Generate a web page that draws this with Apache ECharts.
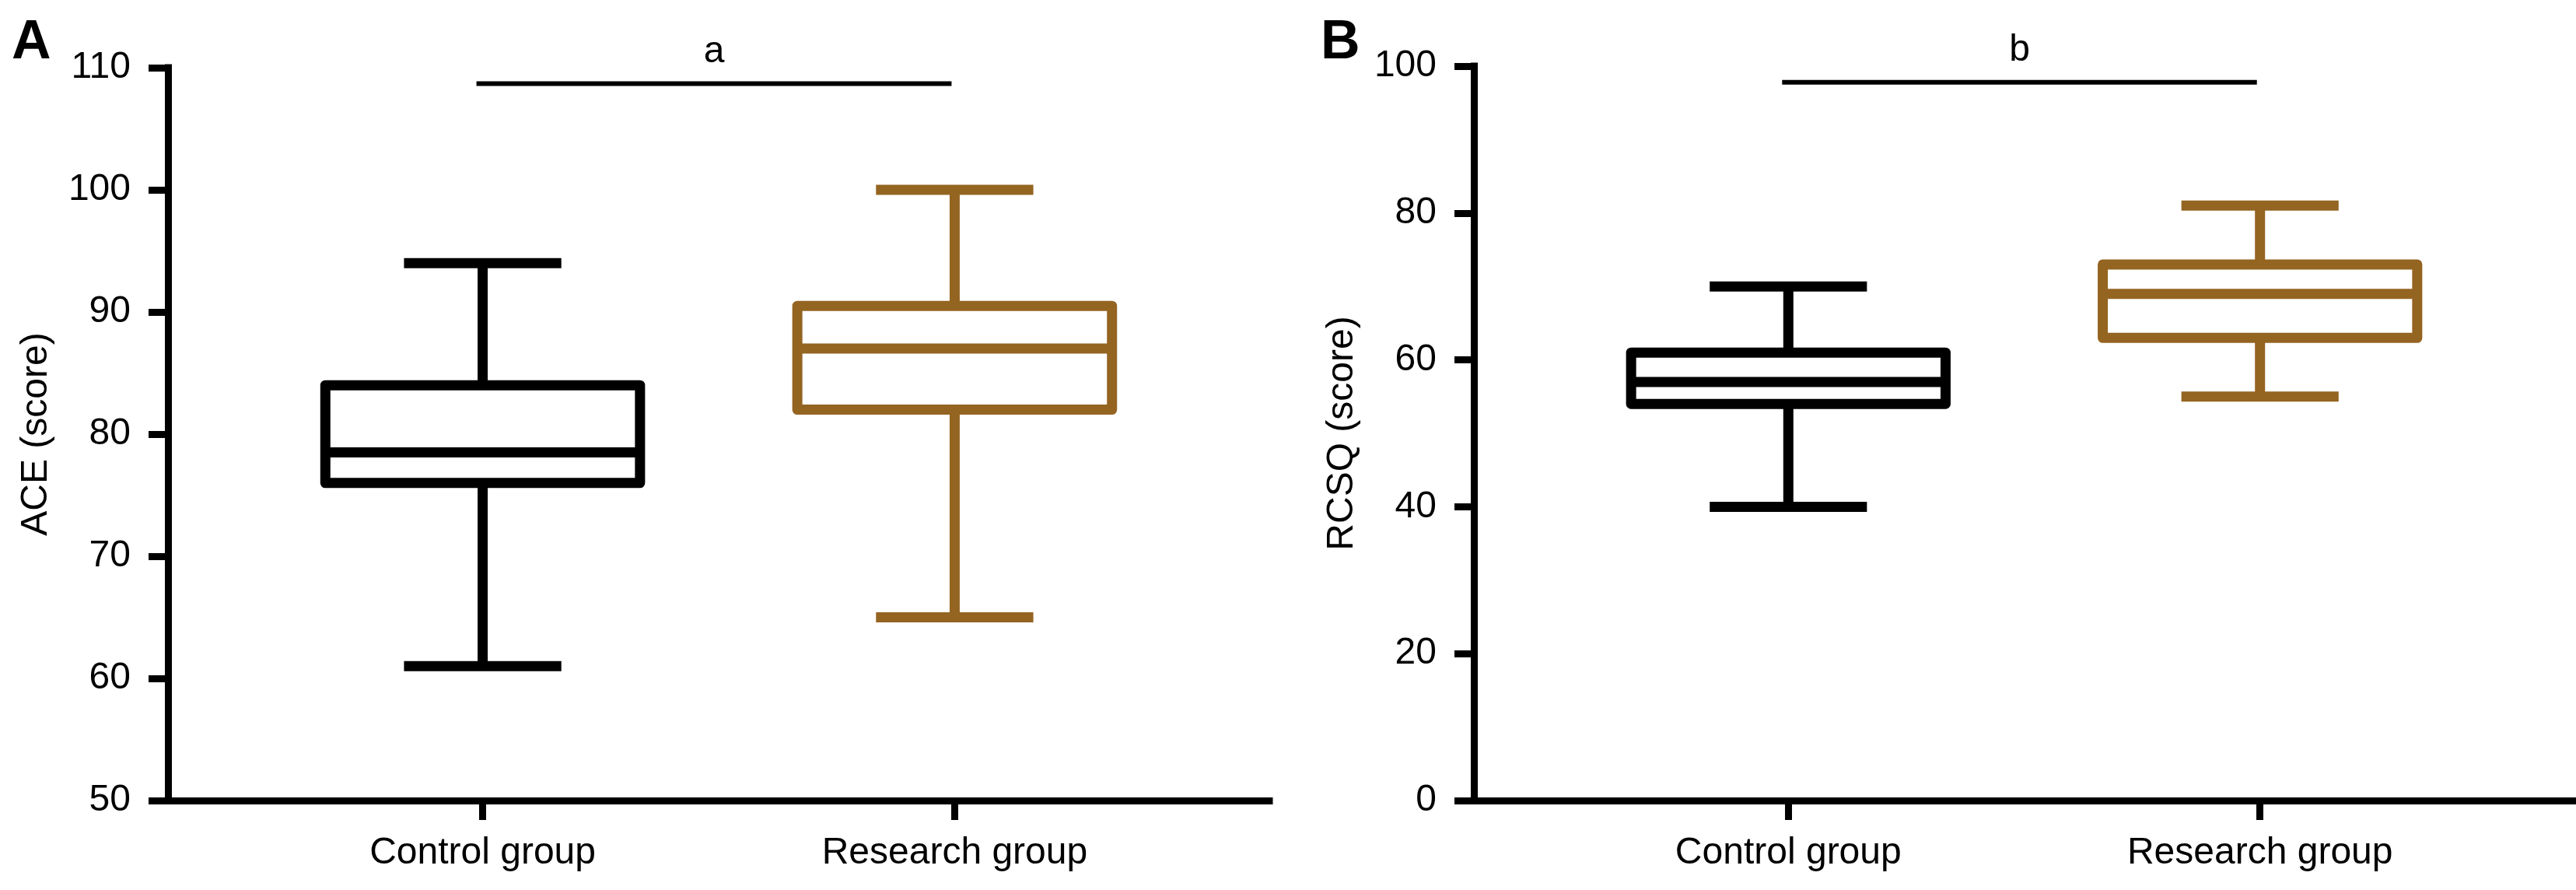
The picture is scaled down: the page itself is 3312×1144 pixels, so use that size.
<!DOCTYPE html>
<html>
<head>
    <meta charset="utf-8">
    <title>ACE / RCSQ box plots</title>
    <script src="https://cdn.jsdelivr.net/npm/echarts@6/dist/echarts.min.js"></script>
    <style>
        html, body { margin: 0; padding: 0; background: #fff; }
        #chart { width: 3312px; height: 1144px; }
    </style>
</head>
<body>
    <div id="chart"></div>
    <script type="text/javascript">
        // groups on the x axis
        var groups = ['Control group', 'Research group'];
        // slot index of each group on the axis (8 slots, 0..7)
        var groupSlots = [2, 5];
        var slotCount = 8;

        // [min, Q1, median, Q3, max]
        var aceControl = [61, 76, 78.5, 84, 94];
        var aceResearch = [65, 82, 87, 90.5, 100];
        var rcsqControl = [40, 54, 57, 61, 70];
        var rcsqResearch = [55, 63, 69, 73, 81];

        // y axis ranges
        var aceAxis = { min: 50, max: 110, interval: 10 };
        var rcsqAxis = { min: 0, max: 100, interval: 20 };

        // significance bars
        var sigLabels = ['a', 'b'];
        var sigLevels = [108.7, 97.8];

        var groupColors = ['#000000', '#946421'];
        var font = 'Liberation Sans';

        var slots = [];
        for (var i = 0; i < slotCount; i++) slots.push('');
        groupSlots.forEach(function (s, k) { slots[s] = groups[k]; });

        function boxData(ctrl, res) {
            return [ctrl, res].map(function (v, k) {
                return {
                    value: [groupSlots[k]].concat(v),
                    itemStyle: { color: groupColors[k] }
                };
            });
        }

        function renderBox(params, api) {
            var x = api.value(0);
            var lo = api.coord([x, api.value(1)]);
            var q1 = api.coord([x, api.value(2)]);
            var md = api.coord([x, api.value(3)]);
            var q3 = api.coord([x, api.value(4)]);
            var hi = api.coord([x, api.value(5)]);
            var unit = api.size([1, 0])[0];
            var bw = unit * 2, cw = unit;
            var cx = md[0];
            var color = api.visual('color');
            var st = { stroke: color, lineWidth: 13, fill: null, lineCap: 'butt' };
            return {
                type: 'group',
                children: [
                    { type: 'line', shape: { x1: cx, y1: q3[1], x2: cx, y2: hi[1] }, style: st },
                    { type: 'line', shape: { x1: cx - cw / 2, y1: hi[1], x2: cx + cw / 2, y2: hi[1] }, style: st },
                    { type: 'line', shape: { x1: cx, y1: q1[1], x2: cx, y2: lo[1] }, style: st },
                    { type: 'line', shape: { x1: cx - cw / 2, y1: lo[1], x2: cx + cw / 2, y2: lo[1] }, style: st },
                    {
                        type: 'rect',
                        shape: { x: cx - bw / 2, y: q3[1], width: bw, height: q1[1] - q3[1] },
                        style: { stroke: color, lineWidth: 13, fill: '#fff', lineJoin: 'round' }
                    },
                    { type: 'line', shape: { x1: cx - bw / 2, y1: md[1], x2: cx + bw / 2, y2: md[1] }, style: st }
                ]
            };
        }

        function renderSig(params, api) {
            var y = api.value(0);
            var p1 = api.coord([groupSlots[0], y]);
            var p2 = api.coord([groupSlots[1], y]);
            var x1 = p1[0] - 8, x2 = p2[0] - 4;
            return {
                type: 'group',
                children: [
                    { type: 'line', shape: { x1: x1, y1: p1[1], x2: x2, y2: p1[1] },
                      style: { stroke: '#000', lineWidth: 6 } },
                    { type: 'text', x: (x1 + x2) / 2, y: p1[1] - 17,
                      style: { text: sigLabels[params.seriesIndex === 1 ? 0 : 1], fontSize: 48, fontFamily: font,
                               fill: '#000', align: 'center', verticalAlign: 'bottom' } }
                ]
            };
        }

        function xAxisFor(gridIndex) {
            return {
                type: 'category',
                gridIndex: gridIndex,
                data: slots,
                boundaryGap: false,
                axisLine: { show: true, lineStyle: { color: '#000', width: 9, cap: 'square' } },
                axisTick: {
                    show: true, length: 25,
                    interval: function (idx, val) { return val !== ''; },
                    lineStyle: { color: '#000', width: 9 }
                },
                axisLabel: {
                    interval: 0, margin: 44, fontSize: 48, fontFamily: font, color: '#000'
                },
                splitLine: { show: false }
            };
        }

        function yAxisFor(gridIndex, name, range) {
            return {
                type: 'value',
                gridIndex: gridIndex,
                min: range.min, max: range.max, interval: range.interval,
                name: name,
                nameLocation: 'middle',
                nameGap: 145,
                nameTextStyle: { fontSize: 48, fontFamily: font, color: '#000' },
                axisLine: { show: true, lineStyle: { color: '#000', width: 9, cap: 'square' } },
                axisTick: { show: true, length: 25, lineStyle: { color: '#000', width: 9 } },
                axisLabel: { margin: 48, fontSize: 48, fontFamily: font, color: '#000' },
                splitLine: { show: false }
            };
        }

        var chart = echarts.init(document.getElementById('chart'), null, { renderer: 'canvas' });
        chart.setOption({
            animation: false,
            backgroundColor: '#fff',
            title: [
                { text: 'A', left: 15, top: 21, padding: 0,
                  textStyle: { fontSize: 70, fontWeight: 'bold', fontFamily: font, color: '#000' } },
                { text: 'B', left: 1698, top: 21, padding: 0,
                  textStyle: { fontSize: 70, fontWeight: 'bold', fontFamily: font, color: '#000' } }
            ],
            grid: [
                { left: 216, top: 87, width: 1416, height: 942, outerBoundsMode: 'none' },
                { left: 1895, top: 85, width: 1415, height: 944, outerBoundsMode: 'none' }
            ],
            xAxis: [xAxisFor(0), xAxisFor(1)],
            yAxis: [yAxisFor(0, 'ACE (score)', aceAxis), yAxisFor(1, 'RCSQ (score)', rcsqAxis)],
            series: [
                { type: 'custom', xAxisIndex: 0, yAxisIndex: 0, renderItem: renderBox,
                  encode: { x: 0, y: [1, 2, 3, 4, 5] }, data: boxData(aceControl, aceResearch) },
                { type: 'custom', xAxisIndex: 0, yAxisIndex: 0, renderItem: renderSig,
                  encode: { y: 0 }, data: [[sigLevels[0]]] },
                { type: 'custom', xAxisIndex: 1, yAxisIndex: 1, renderItem: renderBox,
                  encode: { x: 0, y: [1, 2, 3, 4, 5] }, data: boxData(rcsqControl, rcsqResearch) },
                { type: 'custom', xAxisIndex: 1, yAxisIndex: 1, renderItem: renderSig,
                  encode: { y: 0 }, data: [[sigLevels[1]]] }
            ]
        });
    </script>
</body>
</html>
